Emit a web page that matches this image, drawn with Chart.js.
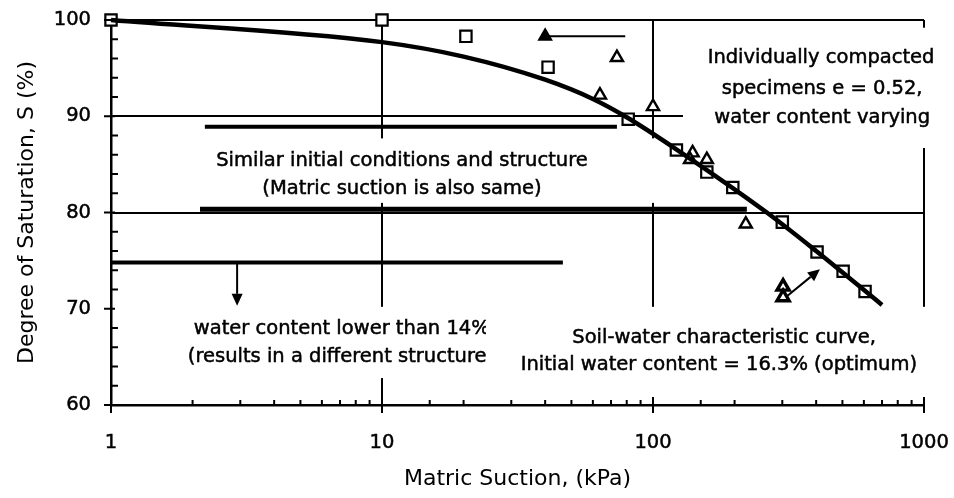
<!DOCTYPE html>
<html>
<head>
<meta charset="utf-8">
<script src="https://cdn.jsdelivr.net/npm/chart.js@4/dist/chart.umd.min.js"></script>
<style>
  html, body { margin: 0; padding: 0; background: #fff; }
  canvas { display: block; }
</style>
</head>
<body>
<canvas id="chart" width="954" height="498"></canvas>
<script>
// fitted soil-water characteristic curve
const curveSuction = [1, 10, 20, 40, 60, 80, 120, 263, 400, 700];
const curveSaturation = [100, 97.7, 96.2, 93.8, 91.8, 89.9, 86.7, 80.0, 76.0, 70.4];

// open squares (SWCC test, w = 16.3%)
const squareSuction = [1, 10, 20.4, 41, 81, 122, 158, 197, 300, 403, 503, 606];
const squareSaturation = [100, 100, 98.3, 95.1, 89.7, 86.5, 84.2, 82.6, 79.0, 75.9, 73.9, 71.8];

// open triangles (individually compacted specimens)
const triSuction = [73.6, 63.7, 100, 140, 137, 158, 220];
const triSaturation = [96.1, 92.2, 91.0, 86.2, 85.5, 85.5, 78.8];

// bold triangles at 300 kPa
const boldTriSuction = [302, 302];
const boldTriSaturation = [72.3, 71.2];

// filled triangle and its leader line
const filledTriSuction = [40];
const filledTriSaturation = [98.3];
const leaderSuction = [40, 79];
const leaderSaturation = [98.3, 98.3];

// thick horizontal bars
const bar89Suction = [2.22, 73.6];
const bar89Saturation = [88.9, 88.9];
const bar80Suction = [2.13, 222];
const bar80Saturation = [80.35, 80.35];
const bar75Suction = [1, 46.5];
const bar75Saturation = [74.8, 74.8];

// arrows [x1, y1, x2, y2] in kPa / %
const arrowDown = [2.92, 74.8, 2.92, 70.3];
const arrowDiag = [312, 71.3, 413, 74.1];

const xMajor = [1, 10, 100, 1000];
const yMajor = [60, 70, 80, 90, 100];
const xGrid = [10, 100, 1000];
const yGrid = [80, 90, 100];

const pts = (xs, ys) => xs.map((v, i) => ({ x: v, y: ys[i] }));

Chart.defaults.font.family = 'DejaVu Sans';
Chart.defaults.font.size = 19.5;
Chart.defaults.color = '#000';

const FONT = '19.5px "DejaVu Sans"';

function maskBox(ctx, x, y, x1, y1, x2, y2) {
  const a = x.getPixelForValue(x1), b = x.getPixelForValue(x2);
  const c = y.getPixelForValue(y1), d = y.getPixelForValue(y2);
  ctx.fillStyle = '#fff';
  ctx.fillRect(Math.min(a, b), Math.min(c, d), Math.abs(b - a), Math.abs(d - c));
}

function label(ctx, x, y, text, sx, sy, align) {
  ctx.fillStyle = '#000';
  ctx.strokeStyle = '#000';
  ctx.lineWidth = 0.5;
  ctx.font = FONT;
  ctx.textAlign = align || 'center';
  ctx.textBaseline = 'middle';
  const px = x.getPixelForValue(sx), py = y.getPixelForValue(sy);
  ctx.fillText(text, px, py);
  ctx.strokeText(text, px, py);
}

function arrow(ctx, x, y, a) {
  const x1 = x.getPixelForValue(a[0]), y1 = y.getPixelForValue(a[1]);
  const x2 = x.getPixelForValue(a[2]), y2 = y.getPixelForValue(a[3]);
  const ang = Math.atan2(y2 - y1, x2 - x1);
  const len = 12, w = 5.5;
  ctx.strokeStyle = '#000';
  ctx.fillStyle = '#000';
  ctx.lineWidth = 2;
  ctx.beginPath();
  ctx.moveTo(x1, y1);
  ctx.lineTo(x2 - len * Math.cos(ang), y2 - len * Math.sin(ang));
  ctx.stroke();
  ctx.beginPath();
  ctx.moveTo(x2, y2);
  ctx.lineTo(x2 - len * Math.cos(ang) + w * Math.sin(ang), y2 - len * Math.sin(ang) - w * Math.cos(ang));
  ctx.lineTo(x2 - len * Math.cos(ang) - w * Math.sin(ang), y2 - len * Math.sin(ang) + w * Math.cos(ang));
  ctx.closePath();
  ctx.fill();
}

const notes = {
  id: 'notes',
  beforeDatasetsDraw(chart) {
    const { ctx, scales: { x, y } } = chart;
    ctx.save();
    // white boxes behind the text, they break the grid lines like the original
    maskBox(ctx, x, y, 2.13, 87.7, 110, 81.0);
    maskBox(ctx, x, y, 129, 99.2, 1200, 86.7);
    maskBox(ctx, x, y, 1.39, 70.2, 24.2, 62.8);
    label(ctx, x, y, 'Similar initial conditions and structure', 11.85, 85.35);
    label(ctx, x, y, '(Matric suction is also same)', 11.85, 82.45);
    label(ctx, x, y, 'Individually compacted', 417, 96.05);
    label(ctx, x, y, 'specimens e = 0.52,', 421, 92.85);
    label(ctx, x, y, 'water content varying', 421, 89.85);
    label(ctx, x, y, 'water content lower than 14%', 2.02, 67.9, 'left');
    label(ctx, x, y, '(results in a different structure)', 1.92, 65.0, 'left');
    maskBox(ctx, x, y, 24.2, 70.2, 1200, 60.8);
    label(ctx, x, y, 'Soil-water characteristic curve,', 183, 66.95);
    label(ctx, x, y, 'Initial water content = 16.3% (optimum)', 175, 64.15);
    ctx.restore();
  },
  afterDatasetsDraw(chart) {
    const { ctx, scales: { x, y } } = chart;
    ctx.save();
    arrow(ctx, x, y, arrowDown);
    arrow(ctx, x, y, arrowDiag);
    ctx.restore();
  },
  afterDraw(chart) {
    const { ctx, scales: { x, y }, chartArea: area } = chart;
    ctx.save();
    ctx.strokeStyle = '#000';
    ctx.lineWidth = 2;
    ctx.beginPath();
    x.ticks.forEach(t => {
      const px = x.getPixelForValue(t.value);
      if (xMajor.includes(t.value)) {
        ctx.moveTo(px, area.bottom + 8);
        ctx.lineTo(px, area.bottom - 8);
      } else {
        ctx.moveTo(px, area.bottom);
        ctx.lineTo(px, area.bottom - 5);
      }
    });
    y.ticks.forEach(t => {
      const py = y.getPixelForValue(t.value);
      if (yMajor.includes(t.value)) {
        ctx.moveTo(area.left - 7, py);
        ctx.lineTo(area.left + 4, py);
      } else {
        ctx.moveTo(area.left, py);
        ctx.lineTo(area.left + 7, py);
      }
    });
    ctx.stroke();
    ctx.restore();
  }
};

const thick = (xs, ys, w) => ({
  data: pts(xs, ys), showLine: true, borderColor: '#000', borderWidth: w,
  pointRadius: 0, clip: false
});

new Chart(document.getElementById('chart'), {
  type: 'scatter',
  data: {
    datasets: [
      thick(bar89Suction, bar89Saturation, 4),
      thick(bar80Suction, bar80Saturation, 5),
      thick(bar75Suction, bar75Saturation, 4),
      thick(leaderSuction, leaderSaturation, 2),
      {
        data: pts(curveSuction, curveSaturation), showLine: true,
        borderColor: '#000', borderWidth: 4.5, pointRadius: 0,
        cubicInterpolationMode: 'monotone', clip: false
      },
      {
        data: pts(squareSuction, squareSaturation), pointStyle: 'rect',
        pointRadius: 8, borderColor: '#000', backgroundColor: '#fff',
        borderWidth: 2.2, clip: false
      },
      {
        data: pts(triSuction, triSaturation), pointStyle: 'triangle',
        pointRadius: 7, borderColor: '#000', backgroundColor: '#fff',
        borderWidth: 2.4, clip: false
      },
      {
        data: pts(boldTriSuction, boldTriSaturation), pointStyle: 'triangle',
        pointRadius: 7, borderColor: '#000', backgroundColor: '#fff',
        borderWidth: 3.4, clip: false
      },
      {
        data: pts(filledTriSuction, filledTriSaturation), pointStyle: 'triangle',
        pointRadius: 7, borderColor: '#000', backgroundColor: '#000',
        borderWidth: 2, clip: false
      }
    ]
  },
  options: {
    responsive: false,
    animation: false,
    events: [],
    layout: { padding: { top: 20, right: 30, left: 0, bottom: 0 } },
    plugins: { legend: { display: false }, tooltip: { enabled: false } },
    scales: {
      x: {
        type: 'logarithmic',
        min: 1,
        max: 1000,
        afterFit(s) { s.height = 93; s.paddingLeft = 0; s.paddingRight = 0; },
        border: { display: true, color: '#000', width: 2.5 },
        grid: {
          drawTicks: false,
          lineWidth: 2,
          color: c => (c.tick && xGrid.includes(c.tick.value)) ? '#000' : 'rgba(0,0,0,0)'
        },
        ticks: {
          autoSkip: false,
          maxRotation: 0,
          padding: 26,
          textStrokeColor: '#000',
          textStrokeWidth: 0.5,
          callback: v => xMajor.includes(v) ? String(v) : ''
        },
        title: {
          display: true,
          text: 'Matric Suction, (kPa)',
          font: { size: 22 },
          padding: { top: 0, bottom: 6 }
        }
      },
      y: {
        min: 60,
        max: 100,
        afterFit(s) { s.width = 111; s.paddingTop = 0; s.paddingBottom = 0; },
        border: { display: true, color: '#000', width: 2.5 },
        grid: {
          drawTicks: false,
          lineWidth: 2,
          color: c => (c.tick && yGrid.includes(c.tick.value)) ? '#000' : 'rgba(0,0,0,0)'
        },
        ticks: {
          stepSize: 2,
          autoSkip: false,
          padding: 20,
          textStrokeColor: '#000',
          textStrokeWidth: 0.5,
          callback: v => yMajor.includes(v) ? String(v) : ''
        },
        title: {
          display: true,
          text: 'Degree of Saturation, S (%)',
          font: { size: 22 },
          padding: { top: 14, bottom: 0 }
        }
      }
    }
  },
  plugins: [notes]
});
</script>
</body>
</html>
